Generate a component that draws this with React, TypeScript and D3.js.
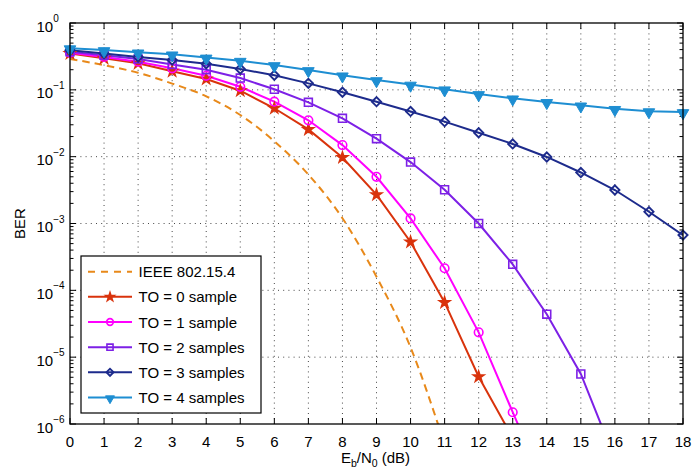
import React from "react";
import * as d3 from "d3";

const ebn0 = [0, 1, 2, 3, 4, 5, 6, 7, 8, 9, 10, 11, 12, 13, 14, 15, 16, 17, 18];
const xTicks = [0, 1, 2, 3, 4, 5, 6, 7, 8, 9, 10, 11, 12, 13, 14, 15, 16, 17, 18];
const yExponents = [0, -1, -2, -3, -4, -5, -6];

const ieee = [0.29, 0.234, 0.18, 0.124, 0.08, 0.042, 0.017, 0.0054, 0.0012, 1.6e-4, 1.4e-5, 5e-7];
const to0 = [0.35, 0.296, 0.249, 0.19, 0.145, 0.097, 0.053, 0.0256, 0.0097, 0.0027, 5.3e-4, 6.6e-5, 5.1e-6, 6.2e-7];
const to1 = [0.36, 0.31, 0.264, 0.21, 0.162, 0.111, 0.0665, 0.035, 0.0149, 0.005, 0.00119, 2.14e-4, 2.35e-5, 1.5e-6, 1e-7];
const to2 = [0.37, 0.33, 0.29, 0.24, 0.2, 0.15, 0.102, 0.065, 0.0375, 0.0186, 0.0083, 0.0032, 0.001, 2.45e-4, 4.4e-5, 5.6e-6, 3e-7];
const to3 = [0.39, 0.35, 0.31, 0.28, 0.245, 0.205, 0.165, 0.125, 0.092, 0.0665, 0.0475, 0.0334, 0.0228, 0.0155, 0.0099, 0.0058, 0.00317, 0.0015, 6.7e-4];
const to4 = [0.42, 0.394, 0.364, 0.34, 0.305, 0.273, 0.235, 0.198, 0.165, 0.14, 0.12, 0.102, 0.0867, 0.0747, 0.066, 0.0586, 0.052, 0.048, 0.0466];

const seriesNames = ["IEEE 802.15.4", "TO = 0 sample", "TO = 1 sample", "TO = 2 samples", "TO = 3 samples", "TO = 4 samples"];
const seriesColors = ["#e8891a", "#d9330c", "#ff00ff", "#7d20e6", "#1d2b8c", "#1e8ed2"];
const seriesMarkers = ["none", "star", "circle", "square", "diamond", "triangle"];
const seriesValues = [ieee, to0, to1, to2, to3, to4];

const W = 695, H = 471;
const L = 70, R = 683, T = 23, B = 424;
const FONT = "'Liberation Sans', Arial, Helvetica, sans-serif";

const x = d3.scaleLinear().domain([0, 18]).range([L, R]);
const y = d3.scaleLog().domain([1e-6, 1]).range([B, T]);

function markerPath(kind: string, scale: number) {
  switch (kind) {
    case "star": return d3.symbol(d3.symbolStar, 34 * scale)()!;
    case "circle": return d3.symbol(d3.symbolCircle, 58 * scale)()!;
    case "square": return d3.symbol(d3.symbolSquare, 62 * scale)()!;
    case "diamond": return d3.symbol(d3.symbolSquare, 42 * scale)()!;
    case "triangle": return d3.symbol(d3.symbolTriangle, 58 * scale)()!;
  }
  return "";
}
function markerTransform(kind: string, px: number, py: number) {
  if (kind === "diamond") return `translate(${px},${py}) rotate(45)`;
  if (kind === "triangle") return `translate(${px},${py + 1}) rotate(180)`;
  return `translate(${px},${py})`;
}
function Marker({ kind, px, py, color, scale }: any) {
  const filled = kind === "star" || kind === "triangle";
  return (
    <path
      d={markerPath(kind, scale)}
      transform={markerTransform(kind, px, py)}
      fill={filled ? color : "none"}
      stroke={color}
      strokeWidth={kind === "triangle" ? 1 : kind === "diamond" ? 1.9 : 1.6}
    />
  );
}

export default function App() {
  const lineLin = d3.line<number>().x((_, i) => x(ebn0[i])).y((v) => y(v));
  const lineSmooth = d3.line<number>().x((_, i) => x(ebn0[i])).y((v) => y(v)).curve(d3.curveMonotoneX);

  const minor: number[] = [];
  for (let e = -6; e < 0; e++) for (let m = 2; m <= 9; m++) minor.push(m * Math.pow(10, e));

  const legX = 81, legY = 256, legW = 180, legH = 157;
  const rowY = (i: number) => 271.7 + i * 25.15;

  return (
    <svg width={W} height={H} style={{ position: "absolute", left: 0, top: 0, background: "#fff" }} fontFamily={FONT}>
      <defs>
        <clipPath id="plotclip">
          <rect x={L} y={T} width={R - L} height={B - T} />
        </clipPath>
      </defs>
      <rect x={0} y={0} width={W} height={H} fill="#fff" />
      {/* grid */}
      <g stroke="#333" strokeWidth={0.9} strokeDasharray="1 4.2">
        {xTicks.slice(1, -1).map((t) => (
          <line key={"gx" + t} x1={x(t)} x2={x(t)} y1={T} y2={B} />
        ))}
        {yExponents.slice(1, -1).map((e) => (
          <line key={"gy" + e} x1={L} x2={R} y1={y(Math.pow(10, e))} y2={y(Math.pow(10, e))} />
        ))}
      </g>
      {/* ticks */}
      <g stroke="#000" strokeWidth={1}>
        {xTicks.map((t) => (
          <g key={"tx" + t}>
            <line x1={x(t)} x2={x(t)} y1={B} y2={B - 6} />
            <line x1={x(t)} x2={x(t)} y1={T} y2={T + 6} />
          </g>
        ))}
        {yExponents.map((e) => (
          <g key={"ty" + e}>
            <line x1={L} x2={L + 6} y1={y(Math.pow(10, e))} y2={y(Math.pow(10, e))} />
            <line x1={R} x2={R - 6} y1={y(Math.pow(10, e))} y2={y(Math.pow(10, e))} />
          </g>
        ))}
        {minor.map((v, i) => (
          <g key={"my" + i}>
            <line x1={L} x2={L + 3.5} y1={y(v)} y2={y(v)} />
            <line x1={R} x2={R - 3.5} y1={y(v)} y2={y(v)} />
          </g>
        ))}
      </g>
      {/* series lines */}
      <g clipPath="url(#plotclip)" fill="none">
        {seriesValues.map((vals, si) => (
          <path
            key={"l" + si}
            d={(si === 0 ? lineSmooth : lineLin)(vals)!}
            stroke={seriesColors[si]}
            strokeWidth={2}
            strokeDasharray={si === 0 ? "7.5 5" : undefined}
          />
        ))}
      </g>
      {/* markers */}
      {seriesValues.map((vals, si) =>
        si === 0 ? null : (
          <g key={"m" + si}>
            {vals.map((v, i) =>
              v >= 1e-6 && v <= 1 ? (
                <Marker key={i} kind={seriesMarkers[si]} px={x(ebn0[i])} py={y(v)} color={seriesColors[si]} scale={1} />
              ) : null
            )}
          </g>
        )
      )}
      {/* frame */}
      <rect x={L} y={T} width={R - L} height={B - T} fill="none" stroke="#000" strokeWidth={1.3} />
      {/* x tick labels */}
      <g fontSize={15} textAnchor="middle" fill="#000">
        {xTicks.map((t) => (
          <text key={"xl" + t} x={x(t)} y={447}>{t}</text>
        ))}
      </g>
      {/* y tick labels */}
      <g fill="#000">
        {yExponents.map((e) => (
          <text key={"yl" + e} x={36.5} y={y(Math.pow(10, e)) + 8.5} fontSize={15}>
            10<tspan fontSize={10} dy={-9.5}>{e === 0 ? "0" : "\u2212" + Math.abs(e)}</tspan>
          </text>
        ))}
      </g>
      {/* axis labels */}
      <text transform={`translate(25,223.5) rotate(-90)`} textAnchor="middle" fontSize={15} fill="#000">BER</text>
      <text x={375.5} y={463} textAnchor="middle" fontSize={15} fill="#000">
        E<tspan fontSize={10.5} dy={4}>b</tspan><tspan dy={-4}>/N</tspan><tspan fontSize={10.5} dy={4}>0</tspan><tspan dy={-4}> (dB)</tspan>
      </text>
      {/* legend */}
      <rect x={legX} y={legY} width={legW} height={legH} fill="#fff" stroke="#000" strokeWidth={1.2} />
      {seriesNames.map((name, si) => (
        <g key={"lg" + si}>
          <line
            x1={88}
            x2={132}
            y1={rowY(si)}
            y2={rowY(si)}
            stroke={seriesColors[si]}
            strokeWidth={2}
            strokeDasharray={si === 0 ? "7 6" : undefined}
          />
          {si > 0 ? <Marker kind={seriesMarkers[si]} px={110} py={rowY(si)} color={seriesColors[si]} scale={0.6} /> : null}
          <text x={138.5} y={rowY(si) + 5.5} fontSize={15} fill="#000">{name}</text>
        </g>
      ))}
    </svg>
  );
}
